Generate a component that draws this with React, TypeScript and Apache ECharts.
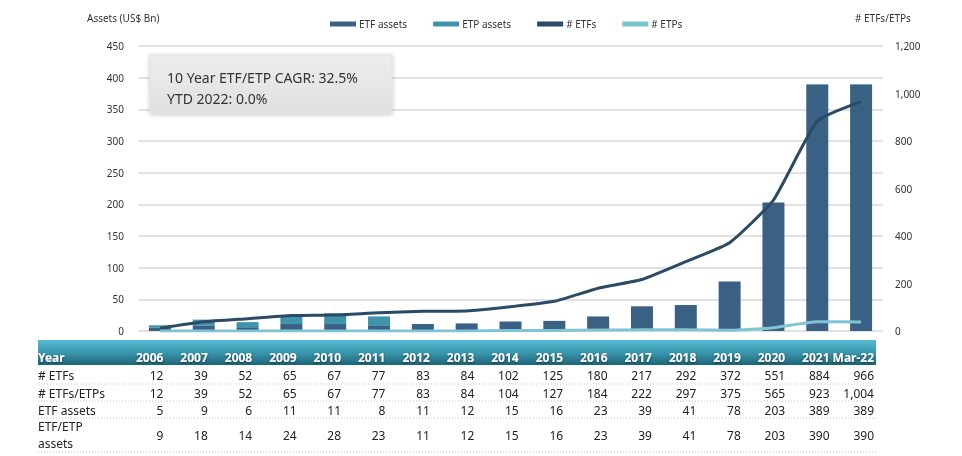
import React, { useEffect, useRef } from 'react';
import * as echarts from 'echarts';

const years = ['2006', '2007', '2008', '2009', '2010', '2011', '2012', '2013', '2014', '2015', '2016', '2017', '2018', '2019', '2020', '2021', 'Mar-22'];
const etfAssets = [5, 9, 6, 11, 11, 8, 11, 12, 15, 16, 23, 39, 41, 78, 203, 389, 389];
const etpAssets = [4, 9, 8, 13, 17, 15, 0, 0, 0, 0, 0, 0, 0, 0, 0, 1, 1];
const etfCount = [12, 39, 52, 65, 67, 77, 83, 84, 102, 125, 180, 217, 292, 372, 551, 884, 966];
const etpCount = [0, 0, 0, 0, 0, 0, 0, 0, 2, 2, 4, 5, 5, 3, 14, 39, 38];
const etfEtpCount = [12, 39, 52, 65, 67, 77, 83, 84, 104, 127, 184, 222, 297, 375, 565, 923, 1004];
const etfEtpAssets = [9, 18, 14, 24, 28, 23, 11, 12, 15, 16, 23, 39, 41, 78, 203, 390, 390];

const FONT = 'Noto Sans';
const fmt = (v: number) => v.toLocaleString('en-US');

export default function App() {
  const ref = useRef<HTMLDivElement>(null);
  useEffect(() => {
    const chart = echarts.init(ref.current!, undefined, { renderer: 'svg' });
    chart.setOption({
      animation: false,
      textStyle: { fontFamily: FONT },
      legend: {
        left: 325,
        top: 14,
        itemWidth: 26,
        itemHeight: 5,
        itemGap: 26,
        icon: 'rect',
        textStyle: { fontSize: 10, color: '#333', fontFamily: FONT, padding: [0, 0, 0, -2] },
        data: ['ETF assets', 'ETP assets', '# ETFs', '# ETPs'],
      },
      grid: [
        { left: 138, right: 79, top: 46, bottom: 125 },
        { left: 119, right: 88, top: 345, height: 1, show: false },
      ],
      xAxis: [
        {
          type: 'category',
          data: years,
          gridIndex: 0,
          axisLabel: { show: false },
          axisTick: { show: false },
          axisLine: { show: false },
        },
        {
          type: 'category',
          data: years,
          gridIndex: 1,
          show: false,
        },
      ],
      yAxis: [
        {
          type: 'value',
          min: 0,
          max: 450,
          interval: 50,
          gridIndex: 0,
          axisLabel: { fontSize: 10, color: '#333', margin: 14, fontFamily: FONT },
          axisLine: { show: false },
          axisTick: { show: false },
          splitLine: { lineStyle: { color: '#d9d9d9', width: 1.5 } },
        },
        {
          type: 'value',
          min: 0,
          max: 1200,
          interval: 200,
          gridIndex: 0,
          position: 'right',
          axisLabel: { fontSize: 10, color: '#333', margin: 12, fontFamily: FONT, formatter: (v: number) => fmt(v) },
          axisLine: { show: false },
          axisTick: { show: false },
          splitLine: { show: false },
        },
        { type: 'value', gridIndex: 1, show: false },
      ],
      series: [
        {
          name: 'ETF assets',
          type: 'bar',
          stack: 'assets',
          data: etfAssets,
          barWidth: 22,
          itemStyle: { color: '#3a6184' },
        },
        {
          name: 'ETP assets',
          type: 'bar',
          stack: 'assets',
          data: etpAssets,
          barWidth: 22,
          itemStyle: { color: '#3f93ab' },
        },
        {
          name: '# ETFs',
          type: 'line',
          yAxisIndex: 1,
          data: etfCount,
          smooth: 0.15,
          symbol: 'none',
          lineStyle: { color: '#2a4a66', width: 3 },
          itemStyle: { color: '#2a4a66' },
        },
        {
          name: '# ETPs',
          type: 'line',
          yAxisIndex: 1,
          data: etpCount,
          smooth: 0.15,
          symbol: 'none',
          lineStyle: { color: '#7ec4d4', width: 3 },
          itemStyle: { color: '#7ec4d4' },
        },
      ],
    });

    const colX = years.map((_, i) => chart.convertToPixel({ xAxisIndex: 1 }, i) as number);
    const colW = colX.length > 1 ? colX[1] - colX[0] : 44;
    const tableLeft = 38;
    const tableRight = colX[colX.length - 1] + colW / 2 + 2;

    const rows = [
      { labels: ['# ETFs'], values: etfCount, y: 375 },
      { labels: ['# ETFs/ETPs'], values: etfEtpCount, y: 393 },
      { labels: ['ETF assets'], values: etfAssets, y: 410 },
      { labels: ['ETF/ETP', 'assets'], values: etfEtpAssets, y: 435 },
    ];

    const graphic: any[] = [
      {
        type: 'text',
        left: 87,
        top: 13,
        style: { text: 'Assets (US$ Bn)', fontSize: 10, fill: '#333', fontFamily: FONT },
      },
      {
        type: 'text',
        left: 855,
        top: 13,
        style: { text: '# ETFs/ETPs', fontSize: 10, fill: '#333', fontFamily: FONT },
      },
      {
        type: 'rect',
        shape: { x: 150, y: 55, width: 242, height: 58 },
        style: {
          fill: new echarts.graphic.LinearGradient(0, 0, 0, 1, [
            { offset: 0, color: '#ededed' },
            { offset: 1, color: '#e0e0e0' },
          ]),
          stroke: '#e2e2e2',
          shadowBlur: 4,
          shadowColor: 'rgba(0,0,0,0.25)',
          shadowOffsetY: 1,
        },
        z: 10,
      },
      {
        type: 'text',
        x: 167,
        y: 77,
        style: { text: '10 Year ETF/ETP CAGR: 32.5%', fontSize: 14, fill: '#333', fontFamily: FONT, verticalAlign: 'middle' },
        z: 11,
      },
      {
        type: 'text',
        x: 167,
        y: 98,
        style: { text: 'YTD 2022: 0.0%', fontSize: 14, fill: '#333', fontFamily: FONT, verticalAlign: 'middle' },
        z: 11,
      },
      {
        type: 'rect',
        shape: { x: tableLeft, y: 340, width: tableRight - tableLeft, height: 25 },
        style: {
          fill: new echarts.graphic.LinearGradient(0, 0, 0, 1, [
            { offset: 0, color: '#55bcd4' },
            { offset: 0.5, color: '#3a97ae' },
            { offset: 1, color: '#1d6577' },
          ]),
        },
      },
      {
        type: 'text',
        x: tableLeft,
        y: 357,
        style: {
          text: 'Year', fontSize: 12, fontWeight: 'bold', fill: '#fff', fontFamily: FONT, verticalAlign: 'middle',
          textShadowColor: 'rgba(0,0,0,0.5)', textShadowBlur: 2, textShadowOffsetY: 1,
        },
      },
    ];

    years.forEach((yr, i) => {
      graphic.push({
        type: 'text',
        x: colX[i] + colW / 2,
        y: 357,
        style: {
          text: yr, fontSize: 12, fontWeight: 'bold', fill: '#fff', fontFamily: FONT,
          align: 'right', verticalAlign: 'middle',
          textShadowColor: 'rgba(0,0,0,0.5)', textShadowBlur: 2, textShadowOffsetY: 1,
        },
      });
    });

    const sepYs = [384, 401, 418, 452];
    sepYs.forEach((y) => {
      graphic.push({
        type: 'line',
        shape: { x1: tableLeft, y1: y, x2: tableRight, y2: y },
        style: { stroke: '#c8c8c8', lineWidth: 1, lineDash: [1, 2] },
      });
    });

    rows.forEach((row) => {
      const n = row.labels.length;
      row.labels.forEach((lab, k) => {
        graphic.push({
          type: 'text',
          x: tableLeft,
          y: row.y + (k - (n - 1) / 2) * 17,
          style: { text: lab, fontSize: 12, lineHeight: 14, fill: '#222', fontFamily: FONT, verticalAlign: 'middle' },
        });
      });
      row.values.forEach((v, i) => {
        graphic.push({
          type: 'text',
          x: colX[i] + colW / 2,
          y: row.y,
          style: { text: fmt(v), fontSize: 12, fill: '#222', fontFamily: FONT, align: 'right', verticalAlign: 'middle' },
        });
      });
    });

    chart.setOption({ graphic });

    return () => chart.dispose();
  }, []);

  return <div ref={ref} style={{ position: 'fixed', left: 0, top: 0, width: 962, height: 456 }} />;
}
